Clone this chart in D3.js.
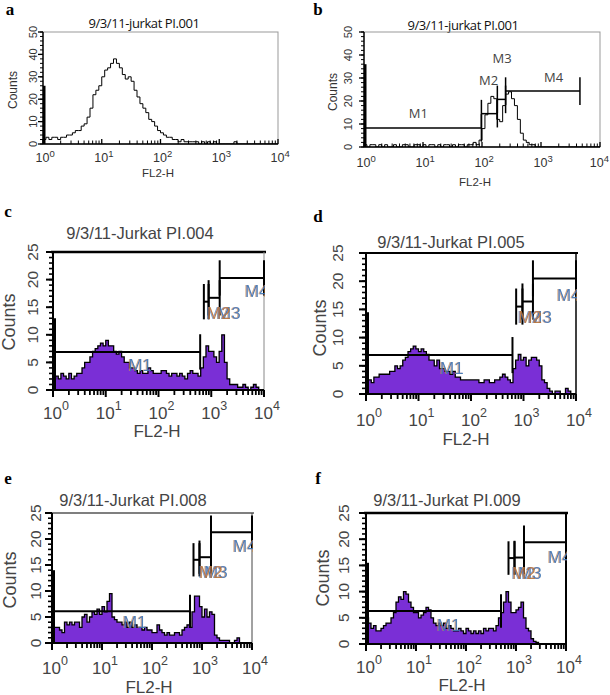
<!DOCTYPE html>
<html><head><meta charset="utf-8">
<script src="https://cdn.jsdelivr.net/npm/d3@7"></script>
<style>body{margin:0;background:#fff}svg{display:block}</style>
</head><body>
<svg id="c" width="610" height="695"></svg>
<script>
// ---------------- DATA ----------------
const panelLetters = ["a","b","c","d","e","f"];
const panelTitles = ["9/3/11-jurkat PI.001","9/3/11-jurkat PI.001","9/3/11-Jurkat PI.004",
  "9/3/11-Jurkat PI.005","9/3/11-Jurkat PI.008","9/3/11-Jurkat PI.009"];
const xAxisLabel = "FL2-H";
const yAxisLabel = "Counts";
const decadeExponents = [0,1,2,3,4];          // x tick labels 10^0 .. 10^4
const yMaxima = [50,50,25,25,25,25];
const yMajorStep = [10,10,5,5,5,5];
const binStep = 0.05;                          // bin width in log10 decades
const firstChannel = [26,36,13,14.5,14,15.5];  // pile-up in the first channel

const countsA = [2,3,2,3,3,2,3,3,4,4, 5,6,6,8,9,12,16,22,24,26, 30,33,34,36,38,36,34,31,29,30,
  28,24,21,18,16,14,11,10,8,6, 5,4,3,3,2,2,1,2,1,1, 1,1,1,0,1,0,1,0,1,0,
  0,0,0,0,0,1,0,0,0,0, 0,0,0,0,0,0,0,0,0,0];
const countsB = [1,0,1,1,0,1,0,1,0,0, 1,0,0,1,1,0,0,1,1,0, 1,0,1,1,0,1,0,1,1,0,
  1,0,1,1,0,1,1,2,1,3, 8,14,19,22,21,12,11,18,23,24, 21,18,12,6,3,2,1,1,0,0,
  0,0,0,0,0,0,0,0,0,0, 0,0,0,0,0,0,0,0,0,0];
const countsC = [2,2.5,2,3,2.5,2,3,2,2.5,3, 3,4,5,5,6,7,7.5,8,8.5,8, 9,8,8,7,6.5,7,6,5,5,4,
  4,3.5,3,3.5,3,3,4,3.5,3,3, 3,3.5,3.5,3,2.5,3,3,2.5,3,2.5, 2,3,3.5,3,3,2.5,4,6,8,7,
  7,6,5,7,10,5,2,1,1,1, 0.5,0.5,1,0.5,0,0.5,1,0.5,0,0];
const countsD = [2.5,2.5,2,3,3,3.5,3.5,3.5,3.5,4, 4,5,4.5,5,6,6.5,7.5,8,8.5,8, 7.5,8,7.5,7,6,6,5,6,4.5,4.5,
  4,4,3.5,4,3,3,2.5,2.5,2.5,2.5, 2.5,2.5,2.5,2,2,2.5,2.5,2,2,2.5, 2.5,3,3.5,3,2.5,2,4.5,6,7,6,
  6.5,5,6,6.5,6.5,6,5,2.5,2,1, 0.5,0,0.5,0.5,0,0,1,0.5,0,0];
const countsE = [3,3,3,2.5,2,4,3.5,4,3.5,4, 4,3,5,5.5,4,5,6,5.5,6.5,5.5, 7,6,8,9.5,5,4.5,4,4,3.5,4,
  3,4,3,3.5,3,3,2.5,3,2.5,2.5, 2,2,3.5,2.5,2,1.5,2,1.5,1.5,2, 2,1.5,2.5,3,3.5,3,6,9,9,7,
  5,6.5,5,6,5.5,1.5,1,0.5,0.5,0.5, 0.5,0,0,0.5,1,0,0,0,0,0];
const countsF = [5,4,3,3.5,2.5,2.5,3,3.5,4,4, 5,6,8,9,8.5,10,9.5,8,7,6, 6,5,5.5,6,7,6.5,5,4,3.5,4,
  3.5,4,3,3.5,3,2.5,2.5,3,2.5,2, 3,2.5,2,2.5,2,2.5,2,3,2.5,3, 3,2.5,3.5,5,6,8,10,8,6,6,
  6.5,7,8,5,3,2.5,1,0.5,0.3,0, 0,0,0,0,0,0,0,0,0,0];
const panelCounts = [countsA,countsB,countsC,countsD,countsE,countsF];

// marker gates: [name, from (log10), to (log10), level (counts), label x (log10, text start), label y (counts)]
const markersA = [];
const markersB = [["M1",0,1.99,8.3,0.76,14.8],["M2",1.99,2.26,14.5,1.95,29],
  ["M3",2.26,2.40,20.7,2.18,38.7],["M4",2.40,3.66,24.3,3.05,30.4]];
const markersC = [["M1",0,2.79,6.9,1.43,4.5],["M3",2.95,3.16,16.7,3.11,13.9],
  ["M2",2.86,2.95,16.0,2.92,13.9],["M4",3.16,4.0,20.3,3.64,17.8]];
const markersD = [["M1",0,2.79,6.9,1.41,4.6],["M3",2.98,3.18,16.4,3.09,13.5],
  ["M2",2.86,2.98,15.5,2.9,13.5],["M4",3.18,4.0,20.5,3.64,17.4]];
const markersE = [["M1",0,2.76,6.1,1.42,4.0],["M3",2.95,3.18,16.5,3.04,13.5],
  ["M2",2.83,2.95,16.0,2.94,13.5],["M4",3.18,4.0,21.3,3.62,18.5]];
const markersF = [["M1",0,2.7,6.3,1.42,3.6],["M3",2.97,3.16,16.5,3.04,13.5],
  ["M2",2.85,2.97,16.4,2.92,13.5],["M4",3.16,4.0,19.4,3.64,16.6]];
const panelMarkers = [markersA,markersB,markersC,markersD,markersE,markersF];

// ---------------- LAYOUT ----------------
const layout = [
 {x0:43,x1:278,y0:32,y1:144, letter:[10,9], title:[144,23], tickY:158, fl:[158,173], counts:[13,90], ytx:33,
  big:false, gate:6},
 {x0:364,x1:600,y0:32,y1:147, letter:[318,9], title:[463,25], tickY:163, fl:[475,182], counts:[333,92], ytx:348,
  big:false, gate:6},
 {x0:53,x1:264,y0:252,y1:390, letter:[8,211], title:[140,233], tickY:413, fl:[157,431], counts:[9,322], ytx:32,
  big:true, topW:2.5, rightC:"#888", rightW:1, gate:3.2},
 {x0:366,x1:576,y0:253,y1:394, letter:[318,216], title:[451,242], tickY:420, fl:[466,439], counts:[320,328], ytx:337,
  big:true, topW:2, rightC:"#000", rightW:1.5, gate:3.2},
 {x0:52,x1:252,y0:513,y1:643, letter:[8,478], title:[133,500], tickY:668, fl:[149,687], counts:[10,580], ytx:35,
  big:true, topW:1.2, rightC:"#444", rightW:1, gate:3.2},
 {x0:366,x1:566,y0:513,y1:644, letter:[318,478], title:[447,500], tickY:667, fl:[462,685], counts:[323,578], ytx:343,
  big:true, topW:2.5, rightC:"#000", rightW:2, gate:3.2}
];

const svg = d3.select("#c");
const SANS = "'Liberation Sans', Arial, Helvetica, sans-serif";
const PURPLE = "#7a2fd6";
const W = 610;

// colour-fringe filters for the marker labels (misregistered print look)
const defs = svg.append("defs");
function fringe(id, col) {
  const f = defs.append("filter").attr("id", id).attr("x","-20%").attr("y","-20%").attr("width","140%").attr("height","140%");
  f.append("feFlood").attr("flood-color", col).attr("flood-opacity", 0.75).attr("result","fl");
  f.append("feComposite").attr("in","fl").attr("in2","SourceAlpha").attr("operator","in").attr("result","cp");
  f.append("feOffset").attr("in","cp").attr("dx",-1.3).attr("dy",0).attr("result","of");
  const m = f.append("feMerge");
  m.append("feMergeNode").attr("in","of");
  m.append("feMergeNode").attr("in","SourceGraphic");
}
fringe("fringeOrange", "#c88a4a");
fringe("fringeBlue", "#3f76b2");

layout.forEach((L, p) => {
  const g = svg.append("g");
  const x = d3.scaleLog().domain([1, 1e4]).range([L.x0, L.x1]);
  const y = d3.scaleLinear().domain([0, yMaxima[p]]).range([L.y1, L.y0]);
  const fs = L.big ? 1 : 0.72;
  const txtCol = L.big ? "#444" : "#333";

  // panel letter
  g.append("text").attr("x", L.letter[0]).attr("y", L.letter[1])
    .attr("dominant-baseline","central").attr("text-anchor","middle")
    .attr("font-family","'Liberation Serif', 'Times New Roman', serif").attr("font-weight","bold")
    .attr("font-size", 17).text(panelLetters[p]);
  // title
  g.append("text").attr("x", L.title[0]).attr("y", L.title[1])
    .attr("dominant-baseline","central").attr("text-anchor","middle")
    .attr("font-family", L.big ? SANS : "'Open Sans', sans-serif").attr("font-size", L.big ? 16.5 : 13)
    .attr("letter-spacing", L.big ? 0 : -0.4)
    .attr("fill", L.big ? "#444" : "#111").text(panelTitles[p]);

  // frame
  if (!L.big) {
    g.append("rect").attr("x", L.x0).attr("y", L.y0).attr("width", L.x1-L.x0).attr("height", L.y1-L.y0)
      .attr("fill","none").attr("stroke","#999").attr("stroke-width",1);
  } else {
    g.append("line").attr("x1", L.x0-2).attr("x2", L.x1+2).attr("y1", L.y0).attr("y2", L.y0)
      .attr("stroke","#000").attr("stroke-width", L.topW);
    g.append("line").attr("x1", L.x1).attr("x2", L.x1).attr("y1", L.y0).attr("y2", L.y1)
      .attr("stroke", L.rightC).attr("stroke-width", L.rightW);
  }

  const clipId = "clip"+p;
  defs.append("clipPath").attr("id", clipId).append("rect")
    .attr("x", L.x0).attr("y", L.y0-30).attr("width", L.x1-L.x0+1).attr("height", L.y1-L.y0+30);

  // histogram
  const counts = panelCounts[p];
  const pts = counts.map((c,i) => [Math.pow(10, i*binStep), c]);
  pts.push([1e4, counts[counts.length-1]]);
  const hg = g.append("g").attr("clip-path", `url(#${clipId})`);
  if (L.big) {
    hg.append("path").datum(pts)
      .attr("d", d3.area().curve(d3.curveStepAfter).x(d=>x(d[0])).y0(y(0)).y1(d=>y(d[1])))
      .attr("fill", PURPLE);
  }
  hg.append("path").datum(pts)
    .attr("d", d3.line().curve(d3.curveStepAfter).x(d=>x(d[0])).y(d=>y(d[1])))
    .attr("fill","none").attr("stroke","#000").attr("stroke-width", L.big ? 1.3 : 1);
  // first channel pile-up
  hg.append("rect").attr("x", x(1)).attr("width", L.big ? 3 : 2.5)
    .attr("y", y(firstChannel[p])).attr("height", y(0)-y(firstChannel[p])).attr("fill","#000");

  // markers
  const mg = g.append("g").attr("clip-path", `url(#${clipId})`);
  panelMarkers[p].forEach(m => {
    const [name, a, b, lev] = m;
    const xa = x(Math.pow(10,a)), xb = x(Math.pow(10,b)), yl = y(lev);
    const sw = L.big ? 2 : 1.5;
    mg.append("line").attr("x1", xa).attr("x2", xb).attr("y1", yl).attr("y2", yl).attr("stroke","#000").attr("stroke-width", sw);
    [xa, xb].forEach(xx => {
      mg.append("line").attr("x1", xx).attr("x2", xx).attr("y1", y(lev+L.gate)).attr("y2", y(Math.max(0,lev-L.gate)))
        .attr("stroke","#000").attr("stroke-width", sw);
    });
  });
  panelMarkers[p].forEach(m => {
    const [name, a, b, lev, lx, ly] = m;
    const tx = x(Math.pow(10,lx)), ty = y(ly);
    if (L.big) {
      const isM2 = name === "M2";
      mg.append("text").attr("x", tx).attr("y", ty).attr("dominant-baseline","central")
        .attr("font-family", SANS).attr("font-size", 17)
        .attr("fill", isM2 ? "#b8763c" : "#3f76b2").attr("opacity", 0.92)
        .attr("filter", isM2 ? "url(#fringeBlue)" : "url(#fringeOrange)").text(name);
    } else {
      g.append("text").attr("x", tx).attr("y", ty).attr("dominant-baseline","central")
        .attr("font-family","'Open Sans', sans-serif").attr("font-size", 13).attr("fill","#444").text(name);
    }
  });

  // x axis
  const minors = [];
  for (let e = 0; e < 4; e++) for (let k = 2; k <= 9; k++) minors.push(k*Math.pow(10,e));
  const majors = decadeExponents.map(e => Math.pow(10,e));
  const axW = L.big ? 2 : 1.4;
  const dir = L.big ? 1 : -1;
  g.append("line").attr("x1", L.x0).attr("x2", L.x1).attr("y1", L.y1).attr("y2", L.y1)
    .attr("stroke","#000").attr("stroke-width", axW);
  g.selectAll(null).data(minors).enter().append("line")
    .attr("x1", d=>x(d)).attr("x2", d=>x(d)).attr("y1", L.y1).attr("y2", L.y1 + dir*(L.big?5:3.5))
    .attr("stroke","#000").attr("stroke-width", L.big ? 1.8 : 1);
  g.selectAll(null).data(majors).enter().append("line")
    .attr("x1", d=>x(d)).attr("x2", d=>x(d)).attr("y1", L.y1 - (L.big?0:5)).attr("y2", L.y1 + (L.big?7:0))
    .attr("stroke","#000").attr("stroke-width", L.big ? 2 : 1.3);
  decadeExponents.forEach(e => {
    const t = g.append("text").attr("x", x(Math.pow(10,e)) + 3*fs).attr("y", L.tickY)
      .attr("dominant-baseline","central").attr("text-anchor","middle")
      .attr("font-family", SANS).attr("font-size", L.big ? 17 : 12.5).attr("fill", txtCol);
    t.append("tspan").text("10");
    t.append("tspan").attr("dy", L.big ? -7 : -5).attr("font-size", L.big ? 12.5 : 9.5).text(String(e));
    const bb = t.node().getBBox();
    if (bb.x + bb.width > W - 1) t.attr("x", +t.attr("x") - (bb.x + bb.width - (W - 1)));
  });
  g.append("text").attr("x", L.fl[0]).attr("y", L.fl[1]).attr("dominant-baseline","central")
    .attr("text-anchor","middle").attr("font-family", SANS).attr("font-size", L.big ? 17 : 11.5)
    .attr("fill", txtCol).text(xAxisLabel);

  // y axis
  const ymax = yMaxima[p];
  const yMinor = d3.range(0, ymax+0.001, L.big ? 1 : 2);
  const yMajor = d3.range(0, ymax+0.001, yMajorStep[p]);
  g.append("line").attr("x1", L.x0).attr("x2", L.x0).attr("y1", L.y0).attr("y2", L.y1)
    .attr("stroke","#000").attr("stroke-width", axW);
  g.selectAll(null).data(yMinor).enter().append("line")
    .attr("x1", L.x0).attr("x2", L.x0 - (L.big?4:3)).attr("y1", d=>y(d)).attr("y2", d=>y(d))
    .attr("stroke","#000").attr("stroke-width", L.big ? 1.6 : 1);
  g.selectAll(null).data(yMajor).enter().append("line")
    .attr("x1", L.x0).attr("x2", L.x0 - (L.big?7:5)).attr("y1", d=>y(d)).attr("y2", d=>y(d))
    .attr("stroke","#000").attr("stroke-width", L.big ? 2 : 1.3);
  yMajor.forEach(v => {
    g.append("text").attr("transform", `translate(${L.ytx},${y(v)}) rotate(-90)`)
      .attr("dominant-baseline","central").attr("text-anchor","middle")
      .attr("font-family", SANS).attr("font-size", L.big ? 15.5 : 11).attr("fill", txtCol).text(String(v));
  });
  g.append("text").attr("transform", `translate(${L.counts[0]},${L.counts[1]}) rotate(-90)`)
    .attr("dominant-baseline","central").attr("text-anchor","middle")
    .attr("font-family", SANS).attr("font-size", L.big ? 18 : 12).attr("fill", txtCol).text(yAxisLabel);
});
</script>
</body></html>
